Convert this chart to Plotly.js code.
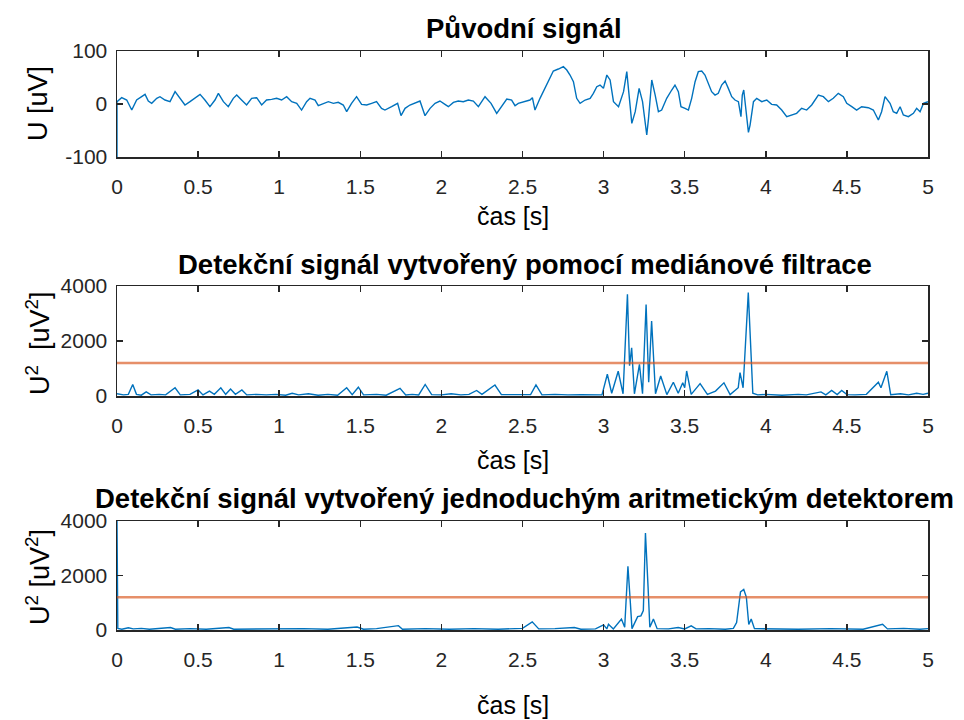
<!DOCTYPE html>
<html><head><meta charset="utf-8">
<script src="https://cdn.plot.ly/plotly-3.0.1.min.js"></script>
<style>html,body{margin:0;padding:0;background:#fff}#chart{width:964px;height:720px}</style>
</head><body><div id="chart"></div>
<script>
// ---- Data ----
const t1 = [0,0,0.029,0.060,0.091,0.121,0.152,0.173,0.193,0.214,0.245,0.265,0.296,0.327,0.358,0.388,0.419,0.450,0.481,0.512,0.542,0.573,0.604,0.625,0.656,0.686,0.717,0.738,0.768,0.799,0.830,0.861,0.892,0.922,0.953,0.984,1.015,1.046,1.077,1.108,1.138,1.169,1.190,1.221,1.241,1.272,1.303,1.334,1.364,1.395,1.416,1.446,1.477,1.508,1.539,1.570,1.600,1.631,
1.652,1.693,1.730,1.751,1.776,1.806,1.848,1.868,1.899,1.930,1.961,1.991,2.022,2.043,2.074,2.104,2.135,2.166,2.197,2.228,2.269,2.306,2.341,2.372,2.403,2.433,2.454,2.474,2.515,2.546,2.561,2.577,2.608,2.639,2.670,2.690,2.721,2.752,2.773,2.793,2.814,2.834,2.855,2.886,2.917,2.937,2.958,2.978,2.999,3.020,3.040,3.061,3.092,3.123,3.143,3.164,3.174,3.195,3.219,3.240,3.266,3.277,3.297,
3.318,3.338,3.358,3.389,3.420,3.440,3.461,3.477,3.502,3.523,3.543,3.564,3.584,3.605,3.625,3.646,3.666,3.687,3.707,3.728,3.749,3.769,3.790,3.810,3.831,3.847,3.855,3.864,3.872,3.882,3.893,3.903,3.924,3.944,3.975,4.006,4.036,4.067,4.098,4.129,4.160,4.190,4.221,4.252,4.283,4.303,4.324,4.355,4.386,4.416,4.447,4.478,4.499,4.530,4.560,4.591,4.632,4.663,4.694,4.714,4.735,4.766,4.786,4.807,4.828,4.848,4.879,4.910,4.930,4.951,4.972,5.000];
const u1 = [-100,4.4,11.9,7.5,-11.4,7.5,13.8,18.2,5.6,1.2,10.7,13.8,7.5,4.4,23.2,10.7,-1.9,4.4,10.7,18.2,7.5,-5.1,7.5,20.1,4.4,-5.1,10.7,16.9,7.5,-1.9,10.7,11.9,-1.9,7.5,8.8,10.7,7.5,13.8,4.4,1.2,-11.4,4.4,10.7,7.5,-3.2,1.2,4.4,1.2,3.1,-1.9,-14.5,1.2,13.8,-0.7,-1.9,1.2,4.4,-8.2,
-11.4,-5.1,1.2,-22.0,-8.2,-1.9,3.1,5.6,-22.0,-8.2,1.2,5.6,-0.7,-5.1,3.1,5.6,4.4,7.5,5.6,-5.1,13.8,1.2,-17.6,-5.1,9.4,7.5,-3.2,1.2,4.4,7.5,11.9,-11.4,10.7,29.5,48.4,62.2,66.0,70.4,64.1,54.7,42.1,10.7,1.2,7.5,10.7,20.1,32.7,35.8,29.5,54.7,45.3,4.4,-5.1,23.2,61.0,-1.9,-36.5,-14.5,29.5,4.4,-58.5,-27.1,45.3,
16.9,-14.5,-11.4,10.7,26.4,35.8,23.2,-5.1,-8.2,-11.4,10.7,42.1,61.0,62.2,54.7,39.0,23.2,16.9,20.1,35.8,43.4,29.5,13.8,7.5,4.4,-23.9,16.9,26.4,1.2,-33.4,-53.5,-39.7,4.4,10.7,4.4,7.5,-0.7,-1.9,-11.4,-23.9,-20.8,-17.6,-8.2,-11.4,-1.9,7.5,16.9,13.8,4.4,10.7,20.1,13.8,1.2,-5.1,-11.4,-5.1,-7.0,-11.4,-30.2,-14.5,13.8,1.2,-14.5,-17.6,-5.1,-20.8,-23.9,-17.6,-8.2,-14.5,1.2,4.4];

const t2 = [0,0.04,0.07,0.097,0.12,0.15,0.18,0.21,0.26,0.30,0.358,0.39,0.45,0.50,0.53,0.57,0.60,0.64,0.67,0.70,0.73,0.77,0.80,0.86,0.92,0.98,1.04,1.08,1.12,1.18,1.24,1.30,1.36,1.416,1.45,1.488,1.52,1.60,1.66,1.745,1.78,1.82,1.86,1.90,1.94,2.00,2.06,2.12,2.17,2.217,2.25,2.33,2.37,2.45,2.50,2.55,2.583,2.62,2.70,2.78,2.86,2.94,2.99,3.023,3.05,3.09,3.12,3.147,3.16,3.173,3.19,3.221,3.24,3.262,3.278,3.296,3.32,3.352,3.39,3.430,3.46,3.488,3.50,3.512,3.54,3.595,3.64,3.69,3.742,3.78,3.83,3.841,3.86,3.892,3.92,3.95,4.0,4.1,4.2,4.25,4.34,4.37,4.406,4.44,4.468,4.50,4.55,4.62,4.694,4.71,4.746,4.77,4.83,4.88,4.93,4.97,5.0];
const d2 = [80,40,60,420,60,30,150,40,60,40,300,40,60,220,40,180,60,300,60,250,60,220,40,60,40,60,30,100,40,80,30,60,30,300,50,320,40,60,30,280,40,60,40,420,50,40,80,40,60,200,60,400,50,40,60,50,400,40,60,40,50,30,40,790,100,900,80,3700,1100,1750,80,1150,80,3330,500,2730,80,730,50,500,100,480,300,910,60,450,60,180,480,50,300,850,300,3760,100,40,60,30,60,40,150,40,200,50,200,50,40,60,500,300,900,50,80,40,100,60,100];

const t3 = [0,0.005,0.03,0.07,0.10,0.15,0.20,0.33,0.36,0.45,0.55,0.69,0.72,0.85,1.0,1.15,1.30,1.48,1.52,1.60,1.735,1.76,1.90,2.05,2.20,2.35,2.50,2.56,2.60,2.70,2.82,2.86,2.95,3.00,3.02,3.03,3.06,3.11,3.13,3.15,3.165,3.175,3.21,3.23,3.245,3.258,3.274,3.285,3.307,3.33,3.40,3.46,3.50,3.54,3.57,3.65,3.75,3.80,3.82,3.844,3.864,3.88,3.895,3.91,3.93,4.0,4.2,4.4,4.6,4.72,4.75,4.85,4.95,5.0];
const a3 = [4000,60,30,80,40,60,30,90,30,50,30,90,30,40,30,50,30,110,30,50,160,30,50,30,50,30,60,300,40,50,90,30,40,190,40,210,40,400,100,2340,1000,50,490,520,710,3560,1600,100,400,50,40,90,40,150,40,50,30,60,275,1400,1490,1210,200,400,50,40,30,50,30,210,40,60,30,50];

const tLimits = [0, 5];
const threshold2 = [1200, 1200];
const threshold3 = [1200, 1200];

const xTicks = [0,0.5,1,1.5,2,2.5,3,3.5,4,4.5,5];
const xTickText = ["0","0.5","1","1.5","2","2.5","3","3.5","4","4.5","5"];
const y1Ticks = [-100, 0, 100];
const y1TickText = ["-100", "0", "100"];
const y2Ticks = [0, 2000, 4000];
const y2TickText = ["0", "2000", "4000"];

// ---- Styles ----
const BLUE = '#0072BD', ORANGE = '#D95319', AX = '#262626';
const FONT = 'Liberation Sans, Arial, sans-serif';

const traces = [
  {x: t1, y: u1, xaxis: 'x', yaxis: 'y', type: 'scatter', mode: 'lines', line: {color: BLUE, width: 1.4}},
  {x: t2, y: d2, xaxis: 'x2', yaxis: 'y2', type: 'scatter', mode: 'lines', line: {color: BLUE, width: 1.4}},
  {x: tLimits, y: threshold2, xaxis: 'x2', yaxis: 'y2', type: 'scatter', mode: 'lines', line: {color: ORANGE, width: 2.5}, opacity: 0.65},
  {x: t3, y: a3, xaxis: 'x3', yaxis: 'y3', type: 'scatter', mode: 'lines', line: {color: BLUE, width: 1.4}},
  {x: tLimits, y: threshold3, xaxis: 'x3', yaxis: 'y3', type: 'scatter', mode: 'lines', line: {color: ORANGE, width: 2.5}, opacity: 0.65}
];

function xa(anchor) {
  return {anchor: anchor, domain: [117/964, 928/964], range: [0, 5], tickvals: xTicks, ticktext: xTickText,
    showline: true, mirror: 'ticks', linecolor: AX, linewidth: 1.5, ticks: 'inside', ticklen: 6, tickcolor: AX, tickwidth: 1.5,
    showgrid: false, zeroline: false, ticklabelstandoff: 10, tickfont: {family: FONT, size: 21, color: AX}};
}
function ya(anchor, domain, range, vals, text) {
  return {anchor: anchor, domain: domain, range: range, tickvals: vals, ticktext: text,
    showline: true, mirror: 'ticks', linecolor: AX, linewidth: 1.5, ticks: 'inside', ticklen: 6, tickcolor: AX, tickwidth: 1.5,
    showgrid: false, zeroline: false, ticklabelstandoff: 4, tickfont: {family: FONT, size: 21, color: AX}};
}

const ann = (text, x, y, size, bold, angle) => ({text: bold ? '<b>' + text + '</b>' : text, x: x, y: y, xref: 'paper', yref: 'paper',
  xanchor: 'center', yanchor: 'middle', showarrow: false, textangle: angle || 0, font: {family: FONT, size: size, color: '#000'}});

const layout = {
  width: 964, height: 720, margin: {l: 0, r: 0, t: 0, b: 0}, paper_bgcolor: '#fff', plot_bgcolor: '#fff', showlegend: false,
  xaxis: xa('y'), yaxis: ya('x', [1-157/720, 1-51/720], [-100, 100], y1Ticks, y1TickText),
  xaxis2: xa('y2'), yaxis2: ya('x2', [1-396/720, 1-286/720], [0, 4000], y2Ticks, y2TickText),
  xaxis3: xa('y3'), yaxis3: ya('x3', [1-630/720, 1-521/720], [0, 4000], y2Ticks, y2TickText),
  annotations: [
    ann('Původní signál', 524/964, 1-29/720, 27.5, true),
    ann('Detekční signál vytvořený pomocí mediánové filtrace', 525/964, 1-264/720, 27.5, true),
    ann('Detekční signál vytvořený jednoduchým aritmetickým detektorem', 524/964, 1-498/720, 27.5, true),
    ann('čas [s]', 513/964, 1-216/720, 25, false),
    ann('čas [s]', 513/964, 1-460/720, 25, false),
    ann('čas [s]', 513/964, 1-705/720, 25, false),
    ann('U [uV]', 38/964, 1-104/720, 27, false, -90),
    ann('U<sup>2</sup>  [uV<sup>2</sup>]', 38/964, 1-343/720, 27, false, -90),
    ann('U<sup>2</sup> [uV<sup>2</sup>]', 38/964, 1-577/720, 27, false, -90)
  ]
};

Plotly.newPlot('chart', traces, layout, {staticPlot: true, displayModeBar: false});
</script>
</body></html>
